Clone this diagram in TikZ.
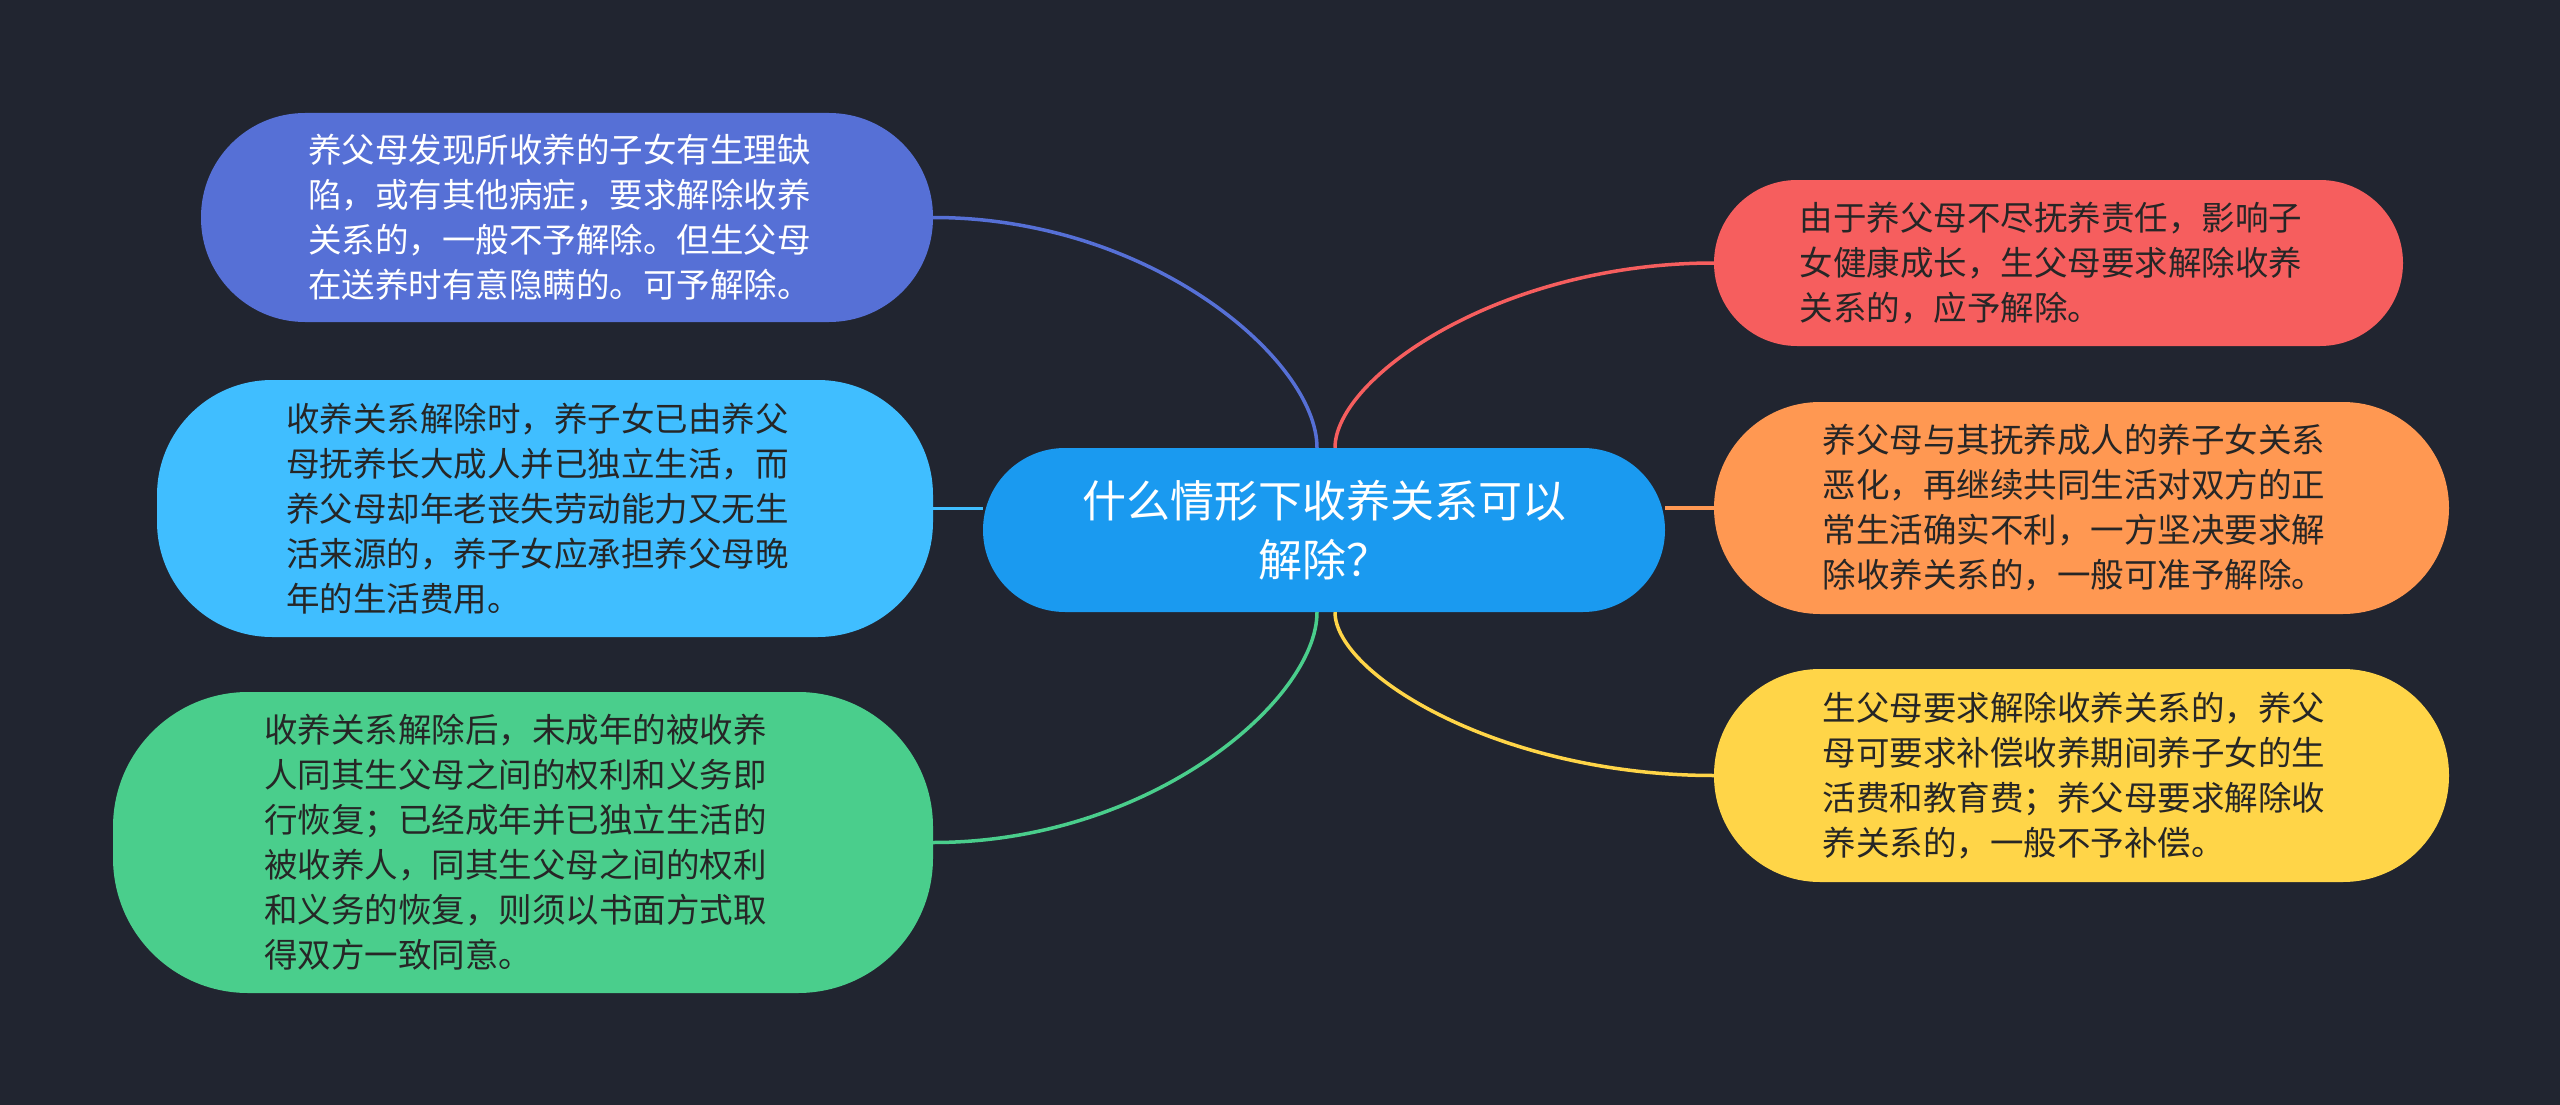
\documentclass[tikz,border=0pt]{standalone}
\usepackage{fontspec}
\setmainfont{Noto Sans CJK SC}
\usepackage{tikz}
\usetikzlibrary{positioning}
\usepackage{xcolor}
\definecolor{bgdark}{RGB}{33,37,48}
\definecolor{rootblue}{RGB}{26,154,240}
\definecolor{violet}{RGB}{86,112,214}
\definecolor{skyblue}{RGB}{64,190,255}
\definecolor{mint}{RGB}{74,206,140}
\definecolor{coral}{RGB}{246,94,94}
\definecolor{apricot}{RGB}{255,152,82}
\definecolor{sun}{RGB}{255,213,72}
\definecolor{inkdark}{RGB}{38,38,38}

\begin{document}
\begin{tikzpicture}[
    x=1pt, y=-1pt,
    root/.style={fill=rootblue, text=white, rounded corners=82pt, minimum width=682pt, minimum height=164pt, inner sep=0pt, align=center, font=\fontsize{44}{59}\selectfont},
    leaf/.style={rounded corners=#1, inner sep=0pt, text width=518pt, align=left, text=inkdark, font=\fontsize{33.5}{45}\selectfont},
    link/.style={line width=3.5pt}
  ]
  \fill[bgdark] (0,0) rectangle (2560,1105);
  \useasboundingbox (0,0) rectangle (2560,1105);

  \node[root] (root) at (1324,530) {什么情形下收养关系可以\\解除？};

  % left side
  \node[leaf=104pt, fill=violet, text=white, minimum width=732pt, minimum height=209pt] (l1) at (567,217.5)
    {养父母发现所收养的子女有生理缺\\陷，或有其他病症，要求解除收养\\关系的，一般不予解除。但生父母\\在送养时有意隐瞒的。可予解除。};
  \node[leaf=115pt, fill=skyblue, minimum width=776pt, minimum height=257pt] (l2) at (545,508.5)
    {收养关系解除时，养子女已由养父\\母抚养长大成人并已独立生活，而\\养父母却年老丧失劳动能力又无生\\活来源的，养子女应承担养父母晚\\年的生活费用。};
  \node[leaf=135pt, fill=mint, minimum width=820pt, minimum height=301pt] (l3) at (523,842.5)
    {收养关系解除后，未成年的被收养\\人同其生父母之间的权利和义务即\\行恢复；已经成年并已独立生活的\\被收养人，同其生父母之间的权利\\和义务的恢复，则须以书面方式取\\得双方一致同意。};

  % right side
  \node[leaf=83pt, fill=coral, minimum width=689pt, minimum height=166pt] (r1) at (2058.5,263)
    {由于养父母不尽抚养责任，影响子\\女健康成长，生父母要求解除收养\\关系的，应予解除。};
  \node[leaf=106pt, fill=apricot, minimum width=735pt, minimum height=212pt] (r2) at (2081.5,508)
    {养父母与其抚养成人的养子女关系\\恶化，再继续共同生活对双方的正\\常生活确实不利，一方坚决要求解\\除收养关系的，一般可准予解除。};
  \node[leaf=106pt, fill=sun, minimum width=735pt, minimum height=213pt] (r3) at (2081.5,775.5)
    {生父母要求解除收养关系的，养父\\母可要求补偿收养期间养子女的生\\活费和教育费；养父母要求解除收\\养关系的，一般不予补偿。};

  \draw[link, violet] (l1.east) .. controls +(217,0) and +(0,-88) .. ([xshift=-7pt]root.north);
  \draw[link, skyblue] (l2.east) -- (l2.east -| root.west);
  \draw[link, mint] (l3.east) .. controls +(217,0) and +(0,88) .. ([xshift=-7pt]root.south);
  \draw[link, coral] ([xshift=11pt]root.north) .. controls +(0,-70) and +(-214,0) .. (r1.west);
  \draw[link, apricot] (root.east |- r2.west) -- (r2.west);
  \draw[link, sun] ([xshift=11pt]root.south) .. controls +(0,62) and +(-214,0) .. (r3.west);
\end{tikzpicture}
\end{document}
